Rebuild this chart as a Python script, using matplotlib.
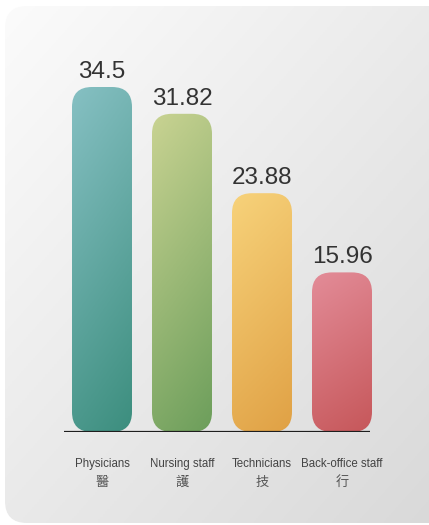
import numpy as np
import matplotlib
matplotlib.use("Agg")
import matplotlib.pyplot as plt
from matplotlib.patches import FancyBboxPatch
from matplotlib.colors import LinearSegmentedColormap

# data
categories = ["Physicians", "Nursing staff", "Technicians", "Back-office staff"]
categories_zh = ["醫", "護", "技", "行"]
values = [34.5, 31.82, 23.88, 15.96]
colors_top = ["#86c0c3", "#c9d392", "#f7d27a", "#e38c98"]
colors_bottom = ["#3c8e7e", "#6c9e5b", "#e0a145", "#c6575a"]

W, H = 429, 525
fig = plt.figure(figsize=(W / 100, H / 100), dpi=100)
fig.patch.set_facecolor("white")

# background card with soft gradient
bg = fig.add_axes([0, 0, 1, 1])
bg.set_xlim(0, W)
bg.set_ylim(H, 0)
bg.axis("off")
card = FancyBboxPatch((5, 6), 460, 517, boxstyle="round,pad=0,rounding_size=22",
                      facecolor="none", edgecolor="none")
bg.add_patch(card)
gy, gx = np.mgrid[0:1:200j, 0:1:200j]
grad = 0.5 * gx + 0.5 * gy
bg_cmap = LinearSegmentedColormap.from_list("bg", ["#fbfbfb", "#d8d8d8"])
im = bg.imshow(grad, cmap=bg_cmap, extent=(5, 465, 523, 6), aspect="auto", zorder=0)
im.set_clip_path(card)

# main axes: 80 px per category, 10 px per unit
ax = fig.add_axes([62 / W, 93 / H, 320 / W, 400 / H])
ax.set_xlim(-0.5, 3.5)
ax.set_ylim(0, 40)
ax.axis("off")

bar_w = 0.75
radius = 0.25
aspect = (40 / 400) / (4 / 320)

vy, vx = np.mgrid[0:1:300j, 0:1:60j]
t = 0.8 * vy + 0.2 * vx

for i, v in enumerate(values):
    x0 = i - bar_w / 2
    patch = FancyBboxPatch((x0, 0), bar_w, v,
                           boxstyle=f"round,pad=0,rounding_size={radius}",
                           mutation_aspect=aspect, facecolor="none",
                           edgecolor="none")
    ax.add_patch(patch)
    cmap = LinearSegmentedColormap.from_list(f"b{i}", [colors_top[i], colors_bottom[i]])
    img = ax.imshow(t, cmap=cmap, extent=(x0, x0 + bar_w, 0, v), origin="upper",
                    aspect="auto", zorder=2)
    img.set_clip_path(patch)

    ax.annotate(f"{v:g}", xy=(i, v), xytext=(0, 3), textcoords="offset points",
                ha="center", va="bottom", fontsize=17.5, color="#333333",
                family=["Liberation Sans", "DejaVu Sans"])
    ax.annotate(categories[i], xy=(i, 0), xytext=(0, -23), textcoords="offset points",
                ha="center", va="center", fontsize=8.3, color="#444444",
                family=["Liberation Sans", "DejaVu Sans"])
    ax.annotate(categories_zh[i], xy=(i, 0), xytext=(0, -36.5), textcoords="offset points",
                ha="center", va="center", fontsize=9.5, color="#555555",
                family=["Noto Sans CJK TC", "DejaVu Sans"])

ax.hlines(0, -0.475, 3.35, color="#1e1e1e", lw=1.6, zorder=3)

fig.savefig("out.png", dpi=100)
